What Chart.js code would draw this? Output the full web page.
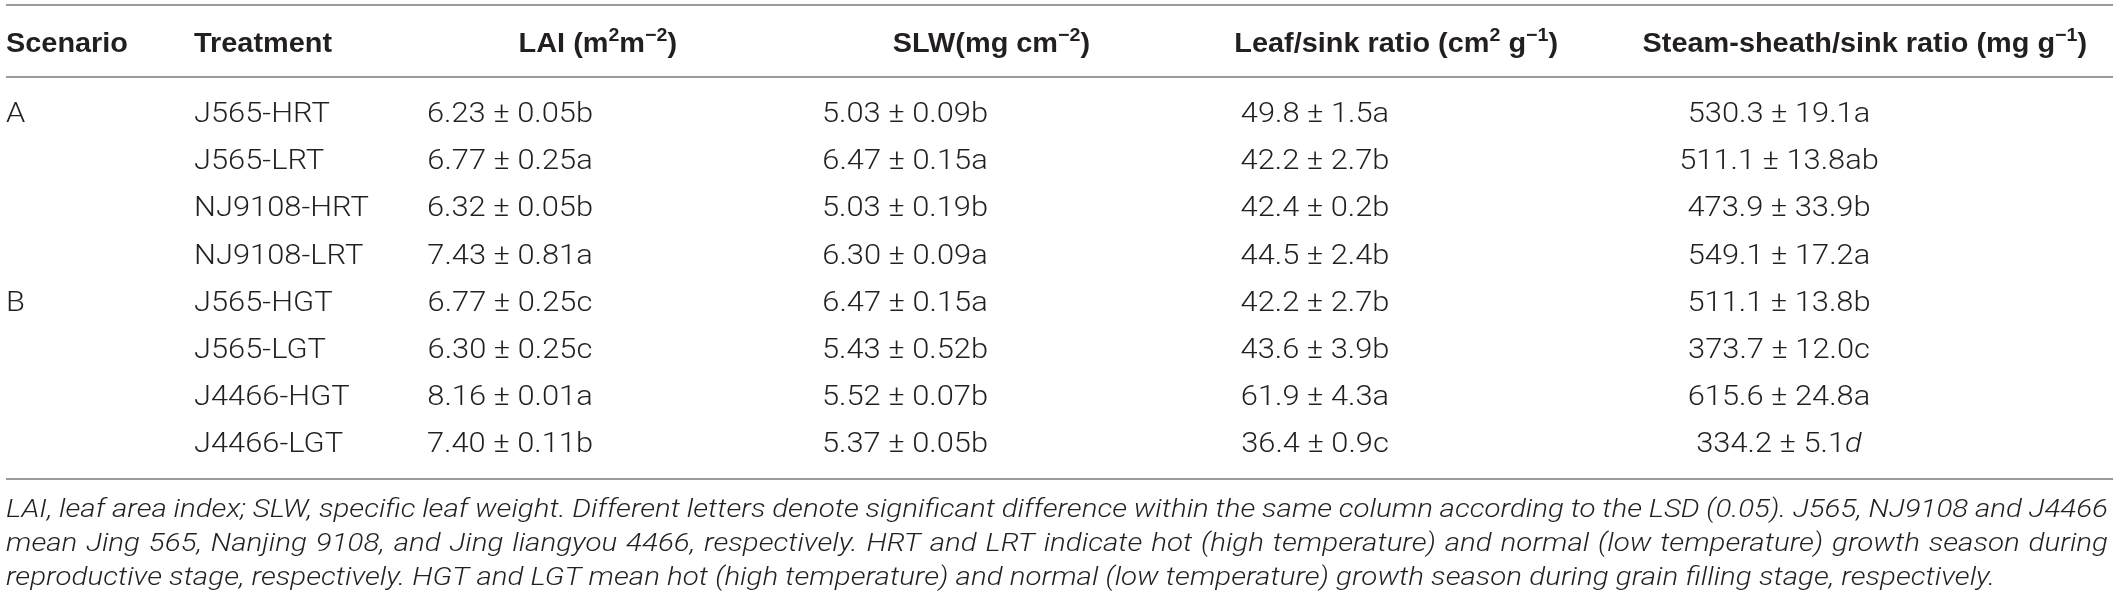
<!DOCTYPE html>
<html>
<head>
<meta charset="utf-8">
<script src="https://cdn.jsdelivr.net/npm/chart.js@4.4.1/dist/chart.umd.min.js"></script>
<style>
  html, body { margin: 0; padding: 0; background: #fff; }
  #wrap { width: 2118px; height: 602px; }
</style>
</head>
<body>
<div id="wrap"><canvas id="tableChart" width="2118" height="602"></canvas></div>
<script>
// table content
const scenarios = ['A', '', '', '', 'B', '', '', ''];
const treatments = ['J565-HRT', 'J565-LRT', 'NJ9108-HRT', 'NJ9108-LRT', 'J565-HGT', 'J565-LGT', 'J4466-HGT', 'J4466-LGT'];
// {..} marks a superscript
const headers = ['Scenario', 'Treatment', 'LAI (m{2}m{−2})', 'SLW(mg cm{−2})', 'Leaf/sink ratio (cm{2} g{−1})', 'Steam-sheath/sink ratio (mg g{−1})'];

const laiMean = [6.23, 6.77, 6.32, 7.43, 6.77, 6.30, 8.16, 7.40];
const laiSd = [0.05, 0.25, 0.05, 0.81, 0.25, 0.25, 0.01, 0.11];
const laiSig = ['b', 'a', 'b', 'a', 'c', 'c', 'a', 'b'];

const slwMean = [5.03, 6.47, 5.03, 6.30, 6.47, 5.43, 5.52, 5.37];
const slwSd = [0.09, 0.15, 0.19, 0.09, 0.15, 0.52, 0.07, 0.05];
const slwSig = ['b', 'a', 'b', 'a', 'a', 'b', 'b', 'b'];

const leafMean = [49.8, 42.2, 42.4, 44.5, 42.2, 43.6, 61.9, 36.4];
const leafSd = [1.5, 2.7, 0.2, 2.4, 2.7, 3.9, 4.3, 0.9];
const leafSig = ['a', 'b', 'b', 'b', 'b', 'b', 'a', 'c'];

const stemMean = [530.3, 511.1, 473.9, 549.1, 511.1, 373.7, 615.6, 334.2];
const stemSd = [19.1, 13.8, 33.9, 17.2, 13.8, 12.0, 24.8, 5.1];
const stemSig = ['a', 'ab', 'b', 'a', 'b', 'c', 'a', 'd'];

const footnote = [
  'LAI, leaf area index; SLW, specific leaf weight. Different letters denote significant difference within the same column according to the LSD (0.05). J565, NJ9108 and J4466',
  'mean Jing 565, Nanjing 9108, and Jing liangyou 4466, respectively. HRT and LRT indicate hot (high temperature) and normal (low temperature) growth season during',
  'reproductive stage, respectively. HGT and LGT mean hot (high temperature) and normal (low temperature) growth season during grain filling stage, respectively.'
];

// layout (x in page px, y in row units)
const rowTop = 122, rowStep = 47.2;
const colX = [6, 194, 510, 905, 1315, 1779];
const colAlign = ['left', 'left', 'center', 'center', 'center', 'center'];
const headX = [6, 194, 677, 1090, 1558, 2087];
const headAlign = ['left', 'left', 'right', 'right', 'right', 'right'];
const headRow = (51.7 - rowTop) / rowStep;
const ruleRows = [(5 - rowTop) / rowStep, (77 - rowTop) / rowStep, (479 - rowTop) / rowStep];
const ruleFrom = 6, ruleTo = 2113;
const noteRows = [517, 551, 585].map(p => (p - rowTop) / rowStep);
const noteX = 6, noteWidth = 2102, lastNoteWidth = 1989;
const italicSig = { 5: [7] }; // column -> rows whose letter is set in italic

const ink = '#231f20';
const bodyFont = '300 27px Roboto';
const sigItalicFont = 'italic 300 27px Roboto';
const headFont = 'bold 28px "Liberation Sans"';
const supFont = 'bold 19px "Liberation Sans"';
const noteFont = 'italic 300 25px Roboto';

const fmt = (m, s, d) => m.toFixed(d) + ' ± ' + s.toFixed(d);
const rows = treatments.map((_, i) => i);

const columns = [
  rows.map(i => [{ t: scenarios[i] }]),
  rows.map(i => [{ t: treatments[i] }]),
  rows.map(i => [{ t: fmt(laiMean[i], laiSd[i], 2) + laiSig[i] }]),
  rows.map(i => [{ t: fmt(slwMean[i], slwSd[i], 2) + slwSig[i] }]),
  rows.map(i => [{ t: fmt(leafMean[i], leafSd[i], 1) + leafSig[i] }]),
  rows.map(i => [{ t: fmt(stemMean[i], stemSd[i], 1) }, { t: stemSig[i] }])
];
// fold letter back in unless italic
columns[5] = columns[5].map((runs, i) =>
  (italicSig[5] || []).includes(i) ? [runs[0], { t: runs[1].t, font: sigItalicFont }] : [{ t: runs[0].t + runs[1].t }]);

function parseHeader(s) {
  const runs = [];
  s.split(/(\{[^}]*\})/).forEach(part => {
    if (!part) return;
    if (part[0] === '{') runs.push({ t: part.slice(1, -1), font: supFont, dy: -11 });
    else runs.push({ t: part, font: headFont });
  });
  return runs;
}

function drawRuns(ctx, runs, x, y, align, sx, defFont) {
  let w = 0;
  runs.forEach(r => { ctx.font = r.font || defFont; w += ctx.measureText(r.t).width; });
  w *= sx;
  let start = x;
  if (align === 'center') start = x - w / 2;
  else if (align === 'right') start = x - w;
  ctx.save();
  ctx.translate(start, y);
  ctx.scale(sx, 1);
  ctx.textAlign = 'left';
  let cx = 0;
  runs.forEach(r => {
    ctx.font = r.font || defFont;
    ctx.fillText(r.t, cx, r.dy || 0);
    cx += ctx.measureText(r.t).width;
  });
  ctx.restore();
}

function drawJustified(ctx, text, x, y, width, sx) {
  const words = text.split(' ');
  const ww = words.map(w => ctx.measureText(w).width * sx);
  const gap = (width - ww.reduce((a, b) => a + b, 0)) / (words.length - 1);
  let cx = x;
  words.forEach((w, i) => {
    ctx.save();
    ctx.translate(cx, y);
    ctx.scale(sx, 1);
    ctx.fillText(w, 0, 0);
    ctx.restore();
    cx += ww[i] + gap;
  });
}

const tablePlugin = {
  id: 'tablePlugin',
  afterDatasetsDraw(chart) {
    const ctx = chart.ctx;
    const xs = chart.scales.x, ys = chart.scales.y;
    ctx.save();
    ctx.fillStyle = ink;
    ctx.textBaseline = 'alphabetic';

    // horizontal rules
    ctx.strokeStyle = '#9b9b9b';
    ctx.lineWidth = 2;
    ruleRows.forEach(r => {
      const py = Math.round(ys.getPixelForValue(r));
      ctx.beginPath();
      ctx.moveTo(xs.getPixelForValue(ruleFrom), py);
      ctx.lineTo(xs.getPixelForValue(ruleTo), py);
      ctx.stroke();
    });

    // header row
    ctx.font = headFont;
    const headSx = 122 / ctx.measureText('Scenario').width;
    headers.forEach((h, c) => {
      drawRuns(ctx, parseHeader(h), xs.getPixelForValue(headX[c]), ys.getPixelForValue(headRow), headAlign[c], headSx, headFont);
    });

    // body cells, placed at the points the library computed
    ctx.font = bodyFont;
    const bodySx = 166 / ctx.measureText('6.23 ± 0.05b').width;
    chart.data.datasets.forEach((ds, di) => {
      const meta = chart.getDatasetMeta(di);
      meta.data.forEach((pt, i) => {
        drawRuns(ctx, ds.cells[i], pt.x, pt.y, ds.align, bodySx, bodyFont);
      });
    });

    // footnote
    ctx.font = noteFont;
    const noteSx = lastNoteWidth / ctx.measureText(footnote[2]).width;
    footnote.forEach((line, k) => {
      const py = ys.getPixelForValue(noteRows[k]);
      const px = xs.getPixelForValue(noteX);
      if (k < footnote.length - 1) drawJustified(ctx, line, px, py, noteWidth, noteSx);
      else drawRuns(ctx, [{ t: line }], px, py, 'left', noteSx, noteFont);
    });
    ctx.restore();
  }
};

const datasets = columns.map((cells, c) => ({
  label: headers[c],
  data: rows.map(i => ({ x: colX[c], y: i })),
  cells: cells,
  align: colAlign[c],
  pointRadius: 0,
  showLine: false
}));

const chart = new Chart(document.getElementById('tableChart'), {
  type: 'scatter',
  data: { datasets: datasets },
  options: {
    responsive: false,
    animation: false,
    devicePixelRatio: 1,
    events: [],
    layout: { padding: 0 },
    plugins: { legend: { display: false }, tooltip: { enabled: false } },
    scales: {
      x: { type: 'linear', display: false, min: 0, max: 2118 },
      y: { type: 'linear', display: false, reverse: true, min: -rowTop / rowStep, max: (602 - rowTop) / rowStep }
    }
  },
  plugins: [tablePlugin]
});
</script>
</body>
</html>
